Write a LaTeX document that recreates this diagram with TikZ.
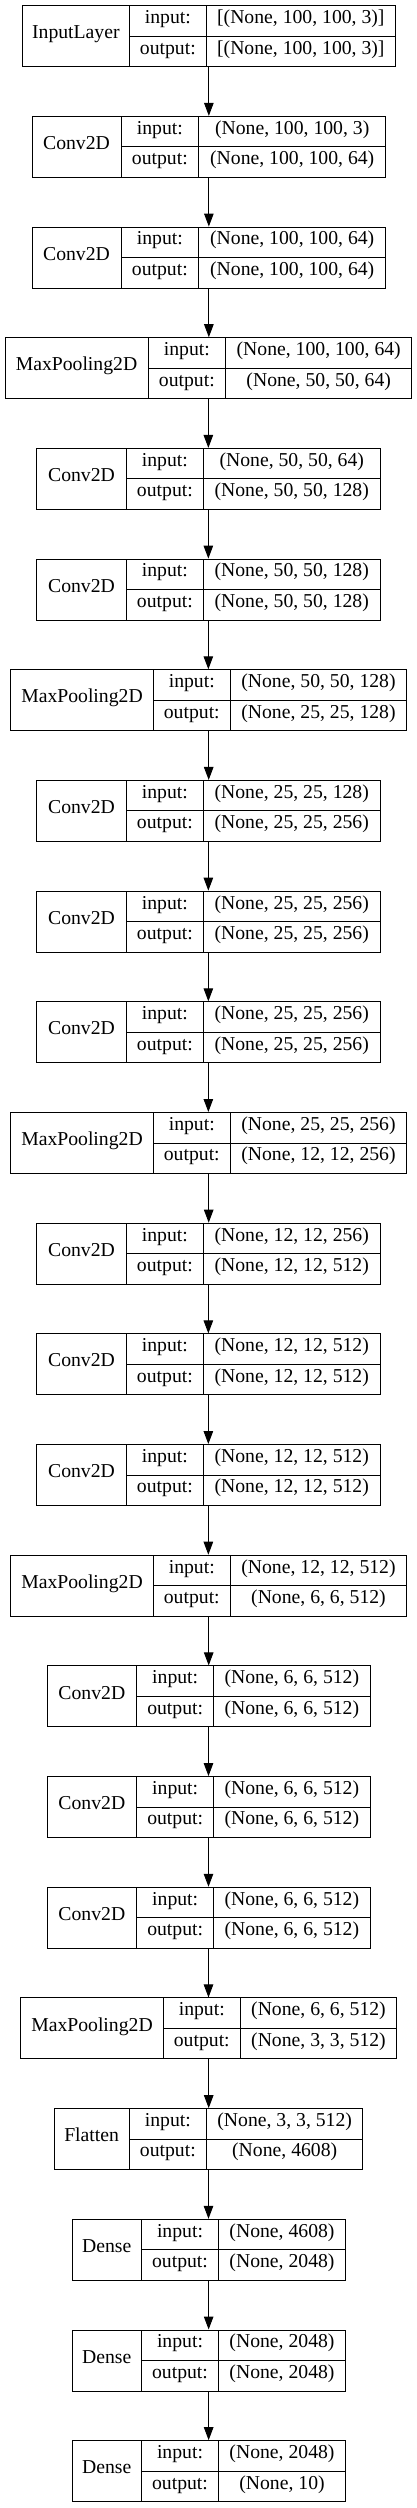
\documentclass[tikz,border=0pt]{standalone}
\usepackage{fontspec}
\setmainfont{Liberation Serif}
\usetikzlibrary{arrows.meta}
\tikzset{
    layer box/.style={
        draw,line width=1pt,inner sep=0pt,
        minimum height=61pt
    },
    cell text/.style={
        inner sep=0pt,text height=0.72em,text depth=0.2em,
        font=\fontsize{19.7pt}{22pt}\selectfont
    },
    >={Triangle[length=13pt,width=9.5pt]}
}
\begin{document}
\begin{tikzpicture}[x=1pt,y=-1pt,line width=1pt]
\useasboundingbox (0,0) rectangle (417,2508);
\foreach \i/\lname/\inshape/\outshape/\xa/\xb/\xc/\xd in {
    0/InputLayer/{[(None, 100, 100, 3)]}/{[(None, 100, 100, 3)]}/22.7/129/206.7/395,
    1/Conv2D/{(None, 100, 100, 3)}/{(None, 100, 100, 64)}/32/121/198.7/385.7,
    2/Conv2D/{(None, 100, 100, 64)}/{(None, 100, 100, 64)}/32/121/198.7/385.7,
    3/MaxPooling2D/{(None, 100, 100, 64)}/{(None, 50, 50, 64)}/5/148/225.7/411.7,
    4/Conv2D/{(None, 50, 50, 64)}/{(None, 50, 50, 128)}/36.7/126.3/203.5/380,
    5/Conv2D/{(None, 50, 50, 128)}/{(None, 50, 50, 128)}/36.7/126.3/203.5/380,
    6/MaxPooling2D/{(None, 50, 50, 128)}/{(None, 25, 25, 128)}/10.7/153.3/230.3/406.7,
    7/Conv2D/{(None, 25, 25, 128)}/{(None, 25, 25, 256)}/36.7/126.3/203.5/380,
    8/Conv2D/{(None, 25, 25, 256)}/{(None, 25, 25, 256)}/36.7/126.3/203.5/380,
    9/Conv2D/{(None, 25, 25, 256)}/{(None, 25, 25, 256)}/36.7/126.3/203.5/380,
    10/MaxPooling2D/{(None, 25, 25, 256)}/{(None, 12, 12, 256)}/10.7/153.3/230.3/406.7,
    11/Conv2D/{(None, 12, 12, 256)}/{(None, 12, 12, 512)}/36.7/126.3/203.5/380,
    12/Conv2D/{(None, 12, 12, 512)}/{(None, 12, 12, 512)}/36.7/126.3/203.5/380,
    13/Conv2D/{(None, 12, 12, 512)}/{(None, 12, 12, 512)}/36.7/126.3/203.5/380,
    14/MaxPooling2D/{(None, 12, 12, 512)}/{(None, 6, 6, 512)}/10.7/153.3/230.3/406.7,
    15/Conv2D/{(None, 6, 6, 512)}/{(None, 6, 6, 512)}/47/136.7/213.7/370,
    16/Conv2D/{(None, 6, 6, 512)}/{(None, 6, 6, 512)}/47/136.7/213.7/370,
    17/Conv2D/{(None, 6, 6, 512)}/{(None, 6, 6, 512)}/47/136.7/213.7/370,
    18/MaxPooling2D/{(None, 6, 6, 512)}/{(None, 3, 3, 512)}/20.7/163.3/240.3/396.7,
    19/Flatten/{(None, 3, 3, 512)}/{(None, 4608)}/54.3/129/206.7/362.7,
    20/Dense/{(None, 4608)}/{(None, 2048)}/72/141.3/218.7/345.3,
    21/Dense/{(None, 2048)}/{(None, 2048)}/72/141.3/218.7/345.3,
    22/Dense/{(None, 2048)}/{(None, 10)}/72/141.3/218.7/345.3}
{
    \pgfmathsetmacro{\yt}{5.7+\i*110.68}
    \pgfmathsetmacro{\ym}{\yt+30.5}
    \pgfmathsetmacro{\yb}{\yt+61}
    \pgfmathsetmacro{\boxw}{\xd-\xa}
    \node[layer box,minimum width=\boxw pt] (box\i) at ({(\xa+\xd)/2},\ym) {};
    \draw (\xb,\yt) -- (\xb,\yb) (\xc,\yt) -- (\xc,\yb) (\xb,\ym) -- (\xd,\ym);
    \node[cell text] (name\i) at ({(\xa+\xb)/2},\ym) {\lname};
    \node[cell text] (in\i) at ({(\xb+\xc)/2},{\yt+15.25}) {input:};
    \node[cell text] (inval\i) at ({(\xc+\xd)/2},{\yt+15.25}) {\inshape};
    \node[cell text] (out\i) at ({(\xb+\xc)/2},{\ym+15.25}) {output:};
    \node[cell text] (outval\i) at ({(\xc+\xd)/2},{\ym+15.25}) {\outshape};
}
\foreach \i [evaluate=\i as \j using int(\i+1)] in {0,...,21}
    \draw[->] (box\i.south) -- (box\i.south |- box\j.north);
\end{tikzpicture}
\end{document}
